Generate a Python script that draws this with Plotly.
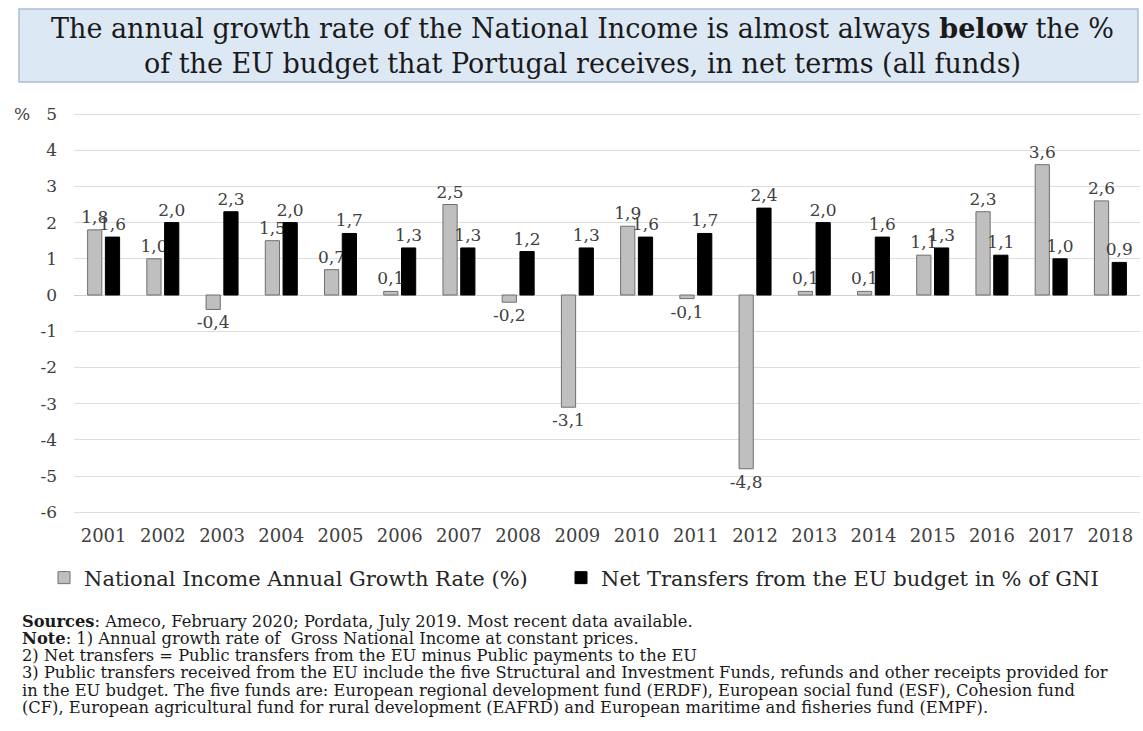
import plotly.graph_objects as go

W, H = 1143, 731

years = [str(y) for y in range(2001, 2019)]
growth = [1.8, 1.0, -0.4, 1.5, 0.7, 0.1, 2.5, -0.2, -3.1, 1.9, -0.1, -4.8, 0.1, 0.1, 1.1, 2.3, 3.6, 2.6]
transfers = [1.6, 2.0, 2.3, 2.0, 1.7, 1.3, 1.3, 1.2, 1.3, 1.6, 1.7, 2.4, 2.0, 1.6, 1.3, 1.1, 1.0, 0.9]
y_ticks = list(range(-6, 6))

series_names = ["National Income Annual Growth Rate (%)", "Net Transfers from the EU budget in % of GNI"]

title_text = ("The annual growth rate of the National Income is almost always <b>below</b> the %<br>"
              "of the EU budget that Portugal receives, in net terms (all funds)")
notes = [
    "<b>Sources</b>: Ameco, February 2020; Pordata, July 2019. Most recent data available.",
    "<b>Note</b>: 1) Annual growth rate of  Gross National Income at constant prices.",
    "2) Net transfers = Public transfers from the EU minus Public payments to the EU",
    "3) Public transfers received from the EU include the five Structural and Investment Funds, refunds and other receipts provided for",
    "in the EU budget. The five funds are: European regional development fund (ERDF), European social fund (ESF), Cohesion fund",
    "(CF), European agricultural fund for rural development (EAFRD) and European maritime and fisheries fund (EMPF).",
]

FONT = "DejaVu Serif"


def fmt(v):
    return f"{v:.1f}".replace(".", ",")


def px(x):
    return x / W


def py(y):
    return 1 - y / H


fig = go.Figure()
fig.add_trace(go.Bar(
    x=years, y=growth, name=series_names[0], legend="legend",
    marker=dict(color="#bfbfbf", line=dict(color="#6f6f6f", width=1)),
    text=[fmt(v) for v in growth], textposition="outside", constraintext="none",
    textfont=dict(family=FONT, size=17, color="#404040"), cliponaxis=False,
))
fig.add_trace(go.Bar(
    x=years, y=transfers, name=series_names[1], legend="legend2",
    marker=dict(color="#000000", line=dict(color="#000000", width=1)),
    text=[fmt(v) for v in transfers], textposition="outside", constraintext="none",
    textfont=dict(family=FONT, size=17, color="#404040"), cliponaxis=False,
))

# plot area in pixels
x0, x1 = 74, 1140
ytop_val, ybot_val = 5.3, -6.3
unit = 36.2
y_zero = 295
ptop = y_zero - ytop_val * unit
pbot = y_zero - ybot_val * unit

legend_common = dict(orientation="h", y=py(578), yanchor="middle", xanchor="left",
                     font=dict(family=FONT, size=21, color="#262626"), bgcolor="rgba(0,0,0,0)")

fig.update_layout(
    width=W, height=H,
    margin=dict(l=0, r=0, t=0, b=0),
    paper_bgcolor="white", plot_bgcolor="white",
    barmode="group", bargap=0.4, bargroupgap=0.2,
    font=dict(family=FONT, color="#404040"),
    xaxis=dict(domain=[px(x0), px(x1)], type="category", showgrid=False, showline=False,
               ticks="", tickfont=dict(family=FONT, size=18, color="#404040")),
    yaxis=dict(domain=[py(pbot), py(ptop)], range=[ybot_val, ytop_val], tickvals=y_ticks,
               ticktext=[str(v) for v in y_ticks], showgrid=True, gridcolor="#dedede",
               zeroline=True, zerolinecolor="#d0d0d0", zerolinewidth=1,
               ticks="", ticklabelstandoff=16, tickfont=dict(family=FONT, size=17, color="#404040")),
    legend=dict(x=px(44), **legend_common),
    legend2=dict(x=px(561), **legend_common),
    showlegend=True,
)

shapes = [dict(type="rect", xref="paper", yref="paper", x0=px(19), x1=px(1138), y0=py(82), y1=py(9),
               fillcolor="#dde8f5", line=dict(color="#a9bdd6", width=1.5), layer="below")]
fig.update_layout(shapes=shapes)

annotations = [
    dict(text=title_text, xref="paper", yref="paper", x=px(582), y=py(46), xanchor="center",
         yanchor="middle", showarrow=False, align="center",
         font=dict(family=FONT, size=27, color="#1a1a1a")),
    dict(text="%", xref="paper", yref="paper", x=px(22), y=py(114), xanchor="center", yanchor="middle",
         showarrow=False, font=dict(family=FONT, size=17, color="#404040")),
]
for i, line in enumerate(notes):
    annotations.append(dict(text=line, xref="paper", yref="paper", x=px(20), y=py(621 + i * 17.3),
                            xanchor="left", yanchor="middle", showarrow=False, align="left",
                            font=dict(family=FONT, size=16.3, color="#1a1a1a")))
fig.update_layout(annotations=annotations)

fig.write_html("out.html")
